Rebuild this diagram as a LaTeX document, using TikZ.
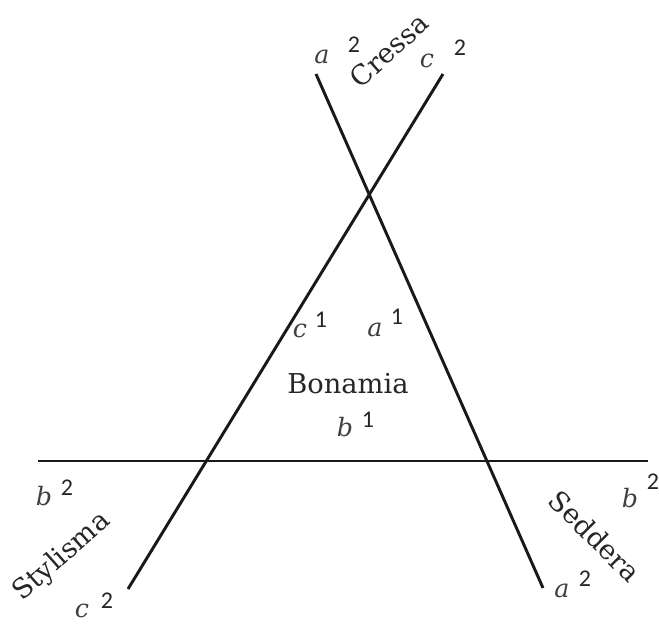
\documentclass[tikz,border=0pt]{standalone}
\usepackage{fontspec}
\setmainfont{DejaVu Serif}
\newfontfamily\digfont{Carlito}
\begin{document}
\begin{tikzpicture}[x=0.75pt,y=-0.75pt,
  lineway/.style={line width=2.2pt,draw=black!90},
  genus/.style={font=\fontsize{20.5}{24}\selectfont,text=black!85,inner sep=0pt},
  letter/.style={font=\fontsize{19}{22}\selectfont\itshape,text=black!75,inner sep=0pt},
  digit/.style={font=\digfont\fontsize{18}{20}\selectfont,text=black!85,inner sep=0pt}]
\useasboundingbox (0,0) rectangle (659,624);
% line ends
\coordinate (aT) at (316,74);
\coordinate (aB) at (543,588);
\coordinate (cT) at (443,74);
\coordinate (cB) at (128,589);
\coordinate (bL) at (38,461);
\coordinate (bR) at (648,461);
\draw[lineway] (aT) -- (aB);
\draw[lineway] (cT) -- (cB);
\draw[lineway] (bL) -- (bR);
% top labels
\node[letter] (la2t) at (322,57) {a};
\node[digit] (da2t) at (354,45) {2};
\node[genus,rotate=42] (cressa) at (389,50) {Cressa};
\node[letter] (lc2t) at (427,61) {c};
\node[digit] (dc2t) at (460,48) {2};
% inner labels
\node[letter] (lc1) at (300,331) {c};
\node[digit] (dc1) at (321,320) {1};
\node[letter] (la1) at (375,330) {a};
\node[digit] (da1) at (397,317) {1};
\node[genus] (bonamia) at (348,384) {Bonamia};
\node[letter] (lb1) at (345,427) {b};
\node[digit] (db1) at (368,420) {1};
% lower left
\node[letter] (lb2l) at (44,496) {b};
\node[digit] (db2l) at (67,488) {2};
\node[genus,rotate=41.6] (stylisma) at (62,557) {Stylisma};
\node[letter] (lc2b) at (82,611) {c};
\node[digit] (dc2b) at (107,601) {2};
% lower right
\node[letter] (lb2r) at (630,498) {b};
\node[digit] (db2r) at (653,482) {2};
\node[genus,rotate=-45] (seddera) at (595,536) {Seddera};
\node[letter] (la2b) at (562,591) {a};
\node[digit] (da2b) at (585,579) {2};
\end{tikzpicture}
\end{document}
